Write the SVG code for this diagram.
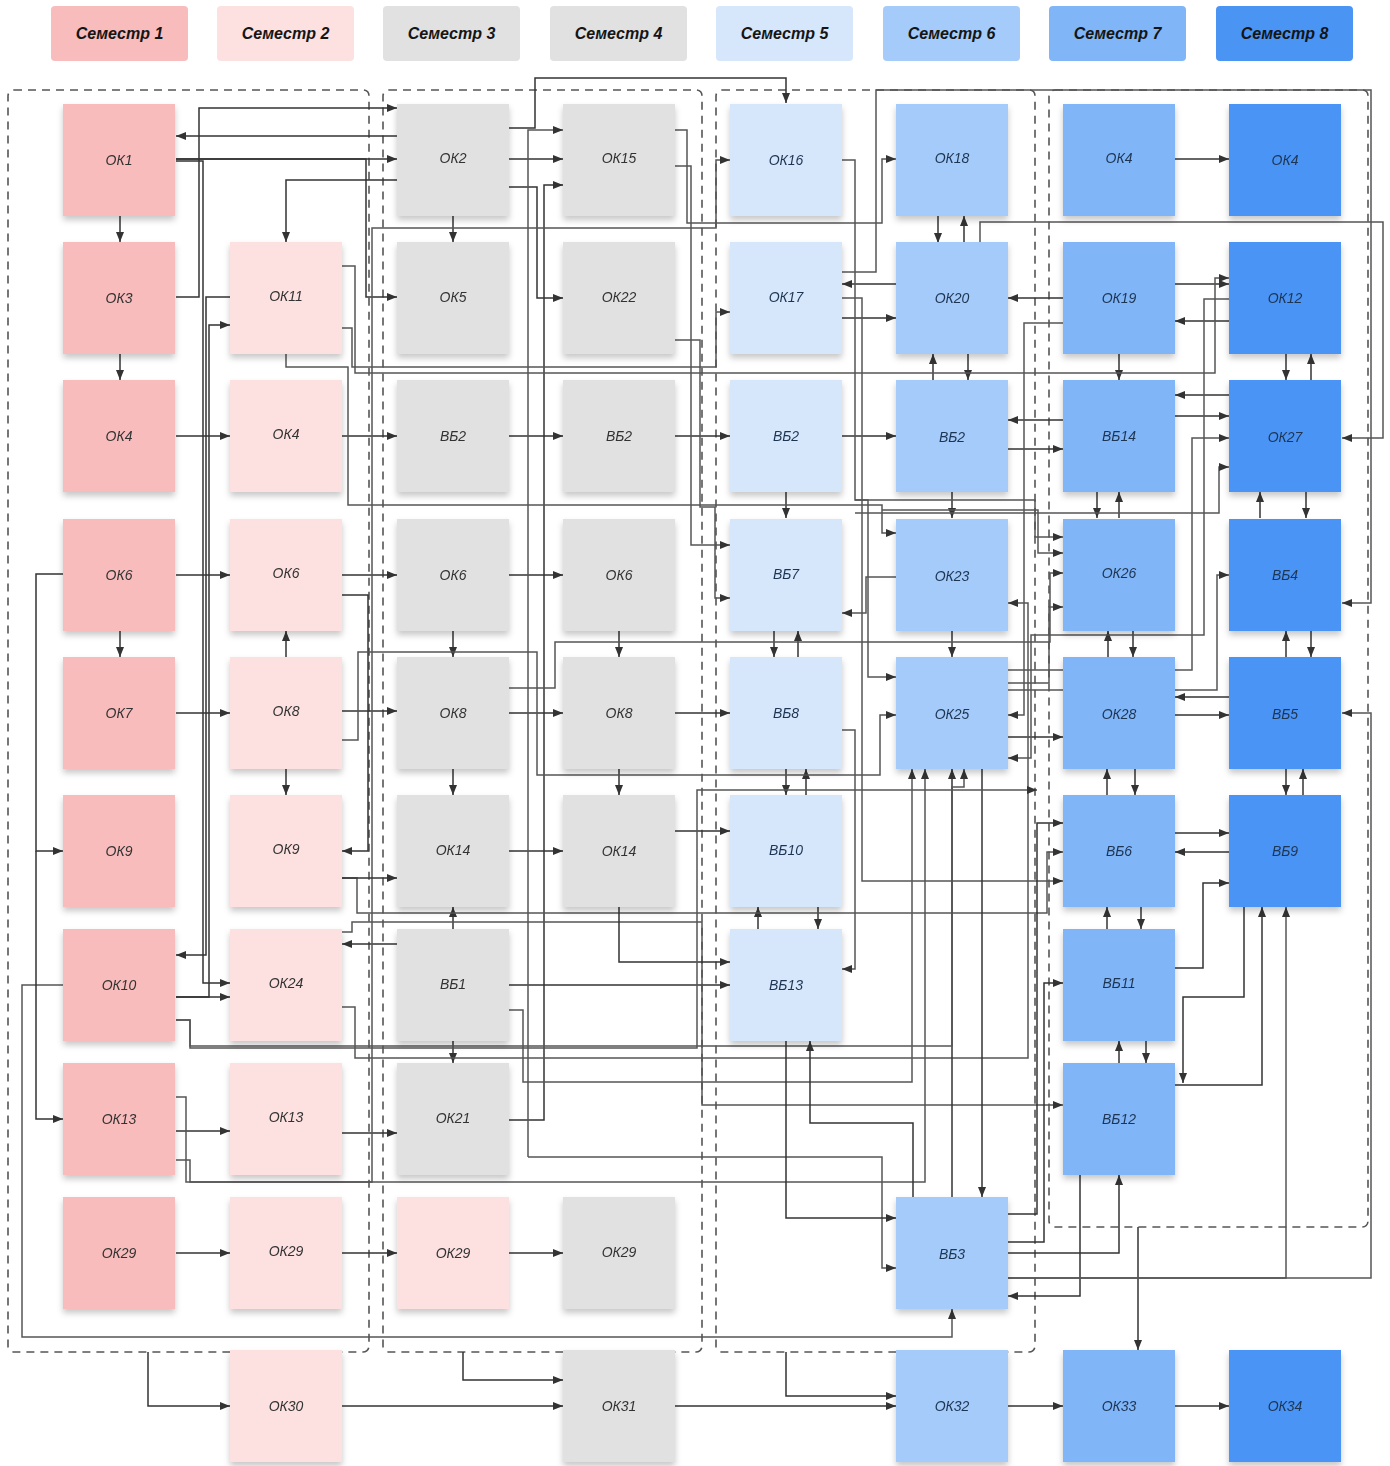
<svg xmlns="http://www.w3.org/2000/svg" width="1390" height="1466" viewBox="0 0 1390 1466">
<style>
.hd{font-family:"Liberation Sans",Arial,sans-serif;font-size:16px;font-weight:bold;font-style:italic;fill:#151515;text-anchor:middle}
.lb{font-family:"Liberation Sans",Arial,sans-serif;font-size:14px;font-style:italic;fill:#333;text-anchor:middle}
.lbb{font-family:"Liberation Sans",Arial,sans-serif;font-size:14px;font-style:italic;fill:#1e3553;text-anchor:middle}
.grp{fill:none;stroke:#555;stroke-width:1.6;stroke-dasharray:8 6}
.c{fill:none;stroke:#333;stroke-width:1.5;marker-end:url(#a)}
.g{fill:none;stroke:#555;stroke-width:1.5;marker-end:url(#a)}
.n{fill:none;stroke:#555;stroke-width:1.5}
.s1{fill:#f8bcbd}.s2{fill:#fde0e0}.s3{fill:#e1e1e1}.s5{fill:#d6e7fb}.s6{fill:#a4cbfa}.s7{fill:#80b5f7}.s8{fill:#4a94f4}
</style>
<defs>
<marker id="a" markerUnits="userSpaceOnUse" markerWidth="10" markerHeight="8" refX="10" refY="4" orient="auto"><path d="M0,0 L10,4 L0,8 z" fill="#333"/></marker>
<filter id="sh" x="-10%" y="-10%" width="120%" height="130%"><feDropShadow dx="0" dy="4" stdDeviation="3" flood-color="#000" flood-opacity="0.22"/></filter>
</defs>
<rect width="1390" height="1466" fill="#fff"/>

<g id="headers">
<g id="h1"><rect class="s1" x="51" y="6" width="137" height="55" rx="4"/><text class="hd" x="119.5" y="39">Семестр 1</text></g>
<g id="h2"><rect class="s2" x="217" y="6" width="137" height="55" rx="4"/><text class="hd" x="285.5" y="39">Семестр 2</text></g>
<g id="h3"><rect class="s3" x="383" y="6" width="137" height="55" rx="4"/><text class="hd" x="451.5" y="39">Семестр 3</text></g>
<g id="h4"><rect class="s3" x="550" y="6" width="137" height="55" rx="4"/><text class="hd" x="618.5" y="39">Семестр 4</text></g>
<g id="h5"><rect class="s5" x="716" y="6" width="137" height="55" rx="4"/><text class="hd" x="784.5" y="39">Семестр 5</text></g>
<g id="h6"><rect class="s6" x="883" y="6" width="137" height="55" rx="4"/><text class="hd" x="951.5" y="39">Семестр 6</text></g>
<g id="h7"><rect class="s7" x="1049" y="6" width="137" height="55" rx="4"/><text class="hd" x="1117.5" y="39">Семестр 7</text></g>
<g id="h8"><rect class="s8" x="1216" y="6" width="137" height="55" rx="4"/><text class="hd" x="1284.5" y="39">Семестр 8</text></g>
</g>

<g id="groups">
<rect class="grp" x="8" y="90" width="361" height="1262" rx="6"/>
<rect class="grp" x="383" y="90" width="319" height="1262" rx="6"/>
<rect class="grp" x="716" y="90" width="319" height="1262" rx="6"/>
<rect class="grp" x="1049" y="90" width="319" height="1137" rx="6"/>
</g>

<g id="connectors">
<!-- straight -->
<path class="c" d="M176,159 H397"/>
<path class="c" d="M397,136 H176"/>
<path class="c" d="M509,159 H563"/>
<path class="c" d="M1175,159 H1229"/>
<path class="c" d="M120,216 V242"/>
<path class="c" d="M120,354 V380"/>
<path class="c" d="M120,631 V657"/>
<path class="c" d="M453,216 V242"/>
<path class="c" d="M176,436 H230"/>
<path class="c" d="M342,436 H397"/>
<path class="c" d="M509,436 H563"/>
<path class="c" d="M675,436 H730"/>
<path class="c" d="M842,436 H896"/>
<path class="c" d="M176,575 H230"/>
<path class="c" d="M342,575 H397"/>
<path class="c" d="M509,575 H563"/>
<path class="c" d="M176,713 H230"/>
<path class="c" d="M342,711 H397"/>
<path class="c" d="M509,713 H563"/>
<path class="c" d="M675,713 H730"/>
<path class="c" d="M286,657 V631"/>
<path class="c" d="M286,769 V795"/>
<path class="c" d="M453,631 V657"/>
<path class="c" d="M619,631 V657"/>
<path class="c" d="M453,769 V795"/>
<path class="c" d="M619,769 V795"/>
<path class="c" d="M509,851 H563"/>
<path class="c" d="M675,831 H730"/>
<path class="c" d="M453,929 V907"/>
<path class="c" d="M453,1041 V1063"/>
<path class="c" d="M509,985 H730"/>
<path class="c" d="M397,944 H342"/>
<path class="c" d="M176,997 H230"/>
<path class="c" d="M176,1131 H230"/>
<path class="c" d="M342,1133 H397"/>
<path class="c" d="M176,1253 H230"/>
<path class="c" d="M342,1253 H397"/>
<path class="c" d="M509,1253 H563"/>
<path class="c" d="M342,1406 H563"/>
<path class="c" d="M675,1406 H896"/>
<path class="c" d="M1008,1406 H1063"/>
<path class="c" d="M1175,1406 H1229"/>
<path class="c" d="M148,1352 V1406 H230"/>
<path class="c" d="M463,1352 V1380 H563"/>
<path class="c" d="M786,1352 V1396 H896"/>
<path class="c" d="M1138,1227 V1350"/>
<path class="c" d="M938,216 V243"/>
<path class="c" d="M964,243 V216"/>
<path class="c" d="M1063,298 H1008"/>
<path class="c" d="M1175,284 H1229"/>
<path class="c" d="M1229,321 H1175"/>
<path class="c" d="M1286,354 V380"/>
<path class="c" d="M1311,380 V354"/>
<path class="c" d="M1119,354 V380"/>
<path class="c" d="M968,354 V380"/>
<path class="c" d="M933,380 V354"/>
<path class="c" d="M1063,420 H1008"/>
<path class="c" d="M1008,449 H1063"/>
<path class="c" d="M1229,395 H1175"/>
<path class="c" d="M1175,416 H1229"/>
<path class="c" d="M1097,492 V518"/>
<path class="c" d="M1119,518 V492"/>
<path class="c" d="M1260,518 V492"/>
<path class="c" d="M1306,492 V518"/>
<path class="c" d="M952,492 V518"/>
<path class="c" d="M952,631 V657"/>
<path class="c" d="M786,492 V518"/>
<path class="c" d="M774,631 V657"/>
<path class="c" d="M798,657 V631"/>
<path class="c" d="M786,769 V795"/>
<path class="c" d="M806,795 V769"/>
<path class="c" d="M758,929 V907"/>
<path class="c" d="M818,907 V929"/>
<path class="c" d="M1229,697 H1175"/>
<path class="c" d="M1175,715 H1229"/>
<path class="c" d="M1286,657 V631"/>
<path class="c" d="M1311,631 V657"/>
<path class="c" d="M1108,657 V631"/>
<path class="c" d="M1133,631 V657"/>
<path class="c" d="M1008,737 H1063"/>
<path class="c" d="M1107,795 V769"/>
<path class="c" d="M1135,769 V795"/>
<path class="c" d="M1286,769 V795"/>
<path class="c" d="M1303,795 V769"/>
<path class="c" d="M1175,833 H1229"/>
<path class="c" d="M1229,852 H1175"/>
<path class="c" d="M1107,929 V907"/>
<path class="c" d="M1141,907 V929"/>
<path class="c" d="M1119,1063 V1041"/>
<path class="c" d="M1146,1041 V1063"/>
<path class="c" d="M896,284 H842"/>
<path class="c" d="M842,318 H896"/>
<!-- routed -->
<path class="c" d="M176,159 H366 V297 H397"/>
<path class="c" d="M176,297 H199 V108 H397"/>
<path class="c" d="M230,297 H206 V955 H176"/>
<path class="c" d="M176,161 H203 V983 H230"/>
<path class="c" d="M176,997 H209 V325 H230"/>
<path class="c" d="M397,180 H286 V242"/>
<path class="c" d="M509,128 H535 V78 H786 V103"/>
<path class="c" d="M509,187 H537 V298 H563"/>
<path class="c" d="M509,1120 H544 V185 H563"/>
<path class="g" d="M528,1157 V130 H563"/>
<path class="g" d="M528,1157 H882 V1268 H896"/>
<path class="g" d="M176,1160 H190 V1182 H925 V769"/>
<path class="g" d="M342,266 H355 V373 H1215 V278 H1229"/>
<path class="g" d="M286,354 V367 H348 V505 H882 V533 H896"/>
<path class="g" d="M342,328 H352 V367 H716 V312 H730"/>
<path class="g" d="M176,1097 H186 V1182 H372 V228 H716 V160 H730"/>
<path class="c" d="M342,595 H368 V851 H342"/>
<path class="g" d="M842,160 H855 V500 H1035 V537 H1063"/>
<path class="g" d="M842,272 H876 V90 H1371 V603 H1342"/>
<path class="g" d="M980,243 V222 H1383 V438 H1342"/>
<path class="g" d="M675,130 H687 V223 H882 V159 H896"/>
<path class="g" d="M675,166 H691 V545 H730"/>
<path class="g" d="M675,340 H700 V507 H715 V598 H730"/>
<path class="g" d="M842,298 H862 V881 H1063"/>
<path class="g" d="M842,730 H855 V969 H842"/>
<path class="g" d="M342,1007 H355 V1058 H1028 V603 H1008"/>
<path class="g" d="M509,1010 H523 V1082 H912 V769"/>
<path class="g" d="M342,932 H352 V922 H702 V1105 H1063"/>
<path class="g" d="M342,878 H357 V913 H1047 V852 H1063"/>
<path class="c" d="M342,878 H397"/>
<path class="g" d="M509,688 H555 V642 H1050 V573 H1063"/>
<path class="g" d="M342,740 H358 V652 H537 V775 H880 V715 H896"/>
<path class="g" d="M855,500 H868 V677 H896"/>
<path class="c" d="M952,1197 V769"/>
<path class="c" d="M982,769 V1197"/>
<path class="g" d="M176,1020 H190 V1046 H952 V787 H964 V769"/>
<path class="g" d="M63,985 H22 V1337 H952 V1309"/>
<path class="c" d="M63,574 H36 V851 H63"/>
<path class="c" d="M36,851 V1119 H63"/>
<path class="c" d="M786,1041 V1218 H896"/>
<path class="c" d="M913,1197 V1123 H810 V1041"/>
<path class="c" d="M1008,1253 H1119 V1175"/>
<path class="c" d="M1080,1175 V1296 H1008"/>
<path class="g" d="M1008,1278 H1286 V907"/>
<path class="g" d="M1008,1278 H1371 V713 H1342"/>
<path class="c" d="M1008,1242 H1044 V983 H1063"/>
<path class="c" d="M1008,1214 H1037 V823 H1063"/>
<path class="c" d="M1175,968 H1203 V883 H1229"/>
<path class="c" d="M1175,1085 H1262 V907"/>
<path class="c" d="M1244,907 V997 H1183 V1083"/>
<path class="g" d="M1229,299 H1204 V635 H1031 V758 H1008"/>
<path class="g" d="M1063,323 H1024 V715 H1008"/>
<path class="g" d="M882,510 H1038 V553 H1063"/>
<path class="g" d="M1008,683 H1049 V607 H1063"/>
<path class="g" d="M855,513 H1219 V467 H1229"/>
<path class="g" d="M1008,670 H1192 V438 H1229"/>
<path class="g" d="M1008,690 H1217 V575 H1229"/>
<path class="g" d="M896,577 H866 V613 H842"/>
<path class="c" d="M619,907 V962 H730"/>
<path class="g" d="M176,1020 H190 V1048 H697 V790 H1037"/>
</g>

<g id="nodes" filter="url(#sh)">
<g id="n-ok1"><rect class="s1" x="63" y="104" width="112" height="112"/><text class="lb" x="119" y="165">ОК1</text></g>
<g id="n-ok3"><rect class="s1" x="63" y="242" width="112" height="112"/><text class="lb" x="119" y="303">ОК3</text></g>
<g id="n-ok4a"><rect class="s1" x="63" y="380" width="112" height="112"/><text class="lb" x="119" y="441">ОК4</text></g>
<g id="n-ok6a"><rect class="s1" x="63" y="519" width="112" height="112"/><text class="lb" x="119" y="580">ОК6</text></g>
<g id="n-ok7"><rect class="s1" x="63" y="657" width="112" height="112"/><text class="lb" x="119" y="718">ОК7</text></g>
<g id="n-ok9a"><rect class="s1" x="63" y="795" width="112" height="112"/><text class="lb" x="119" y="856">ОК9</text></g>
<g id="n-ok10"><rect class="s1" x="63" y="929" width="112" height="112"/><text class="lb" x="119" y="990">ОК10</text></g>
<g id="n-ok13a"><rect class="s1" x="63" y="1063" width="112" height="112"/><text class="lb" x="119" y="1124">ОК13</text></g>
<g id="n-ok29a"><rect class="s1" x="63" y="1197" width="112" height="112"/><text class="lb" x="119" y="1258">ОК29</text></g>

<g id="n-ok11"><rect class="s2" x="230" y="242" width="112" height="112"/><text class="lb" x="286" y="301">ОК11</text></g>
<g id="n-ok4b"><rect class="s2" x="230" y="380" width="112" height="112"/><text class="lb" x="286" y="439">ОК4</text></g>
<g id="n-ok6b"><rect class="s2" x="230" y="519" width="112" height="112"/><text class="lb" x="286" y="578">ОК6</text></g>
<g id="n-ok8a"><rect class="s2" x="230" y="657" width="112" height="112"/><text class="lb" x="286" y="716">ОК8</text></g>
<g id="n-ok9b"><rect class="s2" x="230" y="795" width="112" height="112"/><text class="lb" x="286" y="854">ОК9</text></g>
<g id="n-ok24"><rect class="s2" x="230" y="929" width="112" height="112"/><text class="lb" x="286" y="988">ОК24</text></g>
<g id="n-ok13b"><rect class="s2" x="230" y="1063" width="112" height="112"/><text class="lb" x="286" y="1122">ОК13</text></g>
<g id="n-ok29b"><rect class="s2" x="230" y="1197" width="112" height="112"/><text class="lb" x="286" y="1256">ОК29</text></g>
<g id="n-ok30"><rect class="s2" x="230" y="1350" width="112" height="112"/><text class="lb" x="286" y="1411">ОК30</text></g>

<g id="n-ok2"><rect class="s3" x="397" y="104" width="112" height="112"/><text class="lb" x="453" y="163">ОК2</text></g>
<g id="n-ok5"><rect class="s3" x="397" y="242" width="112" height="112"/><text class="lb" x="453" y="302">ОК5</text></g>
<g id="n-vb2a"><rect class="s3" x="397" y="380" width="112" height="112"/><text class="lb" x="453" y="441">ВБ2</text></g>
<g id="n-ok6c"><rect class="s3" x="397" y="519" width="112" height="112"/><text class="lb" x="453" y="580">ОК6</text></g>
<g id="n-ok8b"><rect class="s3" x="397" y="657" width="112" height="112"/><text class="lb" x="453" y="718">ОК8</text></g>
<g id="n-ok14a"><rect class="s3" x="397" y="795" width="112" height="112"/><text class="lb" x="453" y="855">ОК14</text></g>
<g id="n-vb1"><rect class="s3" x="397" y="929" width="112" height="112"/><text class="lb" x="453" y="989">ВБ1</text></g>
<g id="n-ok21"><rect class="s3" x="397" y="1063" width="112" height="112"/><text class="lb" x="453" y="1123">ОК21</text></g>
<g id="n-ok29c"><rect class="s2" x="397" y="1197" width="112" height="112"/><text class="lb" x="453" y="1258">ОК29</text></g>

<g id="n-ok15"><rect class="s3" x="563" y="104" width="112" height="112"/><text class="lb" x="619" y="163">ОК15</text></g>
<g id="n-ok22"><rect class="s3" x="563" y="242" width="112" height="112"/><text class="lb" x="619" y="302">ОК22</text></g>
<g id="n-vb2b"><rect class="s3" x="563" y="380" width="112" height="112"/><text class="lb" x="619" y="441">ВБ2</text></g>
<g id="n-ok6d"><rect class="s3" x="563" y="519" width="112" height="112"/><text class="lb" x="619" y="580">ОК6</text></g>
<g id="n-ok8c"><rect class="s3" x="563" y="657" width="112" height="112"/><text class="lb" x="619" y="718">ОК8</text></g>
<g id="n-ok14b"><rect class="s3" x="563" y="795" width="112" height="112"/><text class="lb" x="619" y="856">ОК14</text></g>
<g id="n-ok29d"><rect class="s3" x="563" y="1197" width="112" height="112"/><text class="lb" x="619" y="1257">ОК29</text></g>
<g id="n-ok31"><rect class="s3" x="563" y="1350" width="112" height="112"/><text class="lb" x="619" y="1411">ОК31</text></g>

<g id="n-ok16"><rect class="s5" x="730" y="104" width="112" height="112"/><text class="lbb" x="786" y="165">ОК16</text></g>
<g id="n-ok17"><rect class="s5" x="730" y="242" width="112" height="112"/><text class="lbb" x="786" y="302">ОК17</text></g>
<g id="n-vb2c"><rect class="s5" x="730" y="380" width="112" height="112"/><text class="lbb" x="786" y="441">ВБ2</text></g>
<g id="n-vb7"><rect class="s5" x="730" y="519" width="112" height="112"/><text class="lbb" x="786" y="579">ВБ7</text></g>
<g id="n-vb8"><rect class="s5" x="730" y="657" width="112" height="112"/><text class="lbb" x="786" y="718">ВБ8</text></g>
<g id="n-vb10"><rect class="s5" x="730" y="795" width="112" height="112"/><text class="lbb" x="786" y="855">ВБ10</text></g>
<g id="n-vb13"><rect class="s5" x="730" y="929" width="112" height="112"/><text class="lbb" x="786" y="990">ВБ13</text></g>

<g id="n-ok18"><rect class="s6" x="896" y="104" width="112" height="112"/><text class="lbb" x="952" y="163">ОК18</text></g>
<g id="n-ok20"><rect class="s6" x="896" y="242" width="112" height="112"/><text class="lbb" x="952" y="303">ОК20</text></g>
<g id="n-vb2d"><rect class="s6" x="896" y="380" width="112" height="112"/><text class="lbb" x="952" y="442">ВБ2</text></g>
<g id="n-ok23"><rect class="s6" x="896" y="519" width="112" height="112"/><text class="lbb" x="952" y="581">ОК23</text></g>
<g id="n-ok25"><rect class="s6" x="896" y="657" width="112" height="112"/><text class="lbb" x="952" y="719">ОК25</text></g>
<g id="n-vb3"><rect class="s6" x="896" y="1197" width="112" height="112"/><text class="lbb" x="952" y="1259">ВБ3</text></g>
<g id="n-ok32"><rect class="s6" x="896" y="1350" width="112" height="112"/><text class="lbb" x="952" y="1411">ОК32</text></g>

<g id="n-ok4c"><rect class="s7" x="1063" y="104" width="112" height="112"/><text class="lbb" x="1119" y="163">ОК4</text></g>
<g id="n-ok19"><rect class="s7" x="1063" y="242" width="112" height="112"/><text class="lbb" x="1119" y="303">ОК19</text></g>
<g id="n-vb14"><rect class="s7" x="1063" y="380" width="112" height="112"/><text class="lbb" x="1119" y="441">ВБ14</text></g>
<g id="n-ok26"><rect class="s7" x="1063" y="519" width="112" height="112"/><text class="lbb" x="1119" y="578">ОК26</text></g>
<g id="n-ok28"><rect class="s7" x="1063" y="657" width="112" height="112"/><text class="lbb" x="1119" y="719">ОК28</text></g>
<g id="n-vb6"><rect class="s7" x="1063" y="795" width="112" height="112"/><text class="lbb" x="1119" y="856">ВБ6</text></g>
<g id="n-vb11"><rect class="s7" x="1063" y="929" width="112" height="112"/><text class="lbb" x="1119" y="988">ВБ11</text></g>
<g id="n-vb12"><rect class="s7" x="1063" y="1063" width="112" height="112"/><text class="lbb" x="1119" y="1124">ВБ12</text></g>
<g id="n-ok33"><rect class="s7" x="1063" y="1350" width="112" height="112"/><text class="lbb" x="1119" y="1411">ОК33</text></g>

<g id="n-ok4d"><rect class="s8" x="1229" y="104" width="112" height="112"/><text class="lbb" x="1285" y="165">ОК4</text></g>
<g id="n-ok12"><rect class="s8" x="1229" y="242" width="112" height="112"/><text class="lbb" x="1285" y="303">ОК12</text></g>
<g id="n-ok27"><rect class="s8" x="1229" y="380" width="112" height="112"/><text class="lbb" x="1285" y="442">ОК27</text></g>
<g id="n-vb4"><rect class="s8" x="1229" y="519" width="112" height="112"/><text class="lbb" x="1285" y="580">ВБ4</text></g>
<g id="n-vb5"><rect class="s8" x="1229" y="657" width="112" height="112"/><text class="lbb" x="1285" y="719">ВБ5</text></g>
<g id="n-vb9"><rect class="s8" x="1229" y="795" width="112" height="112"/><text class="lbb" x="1285" y="856">ВБ9</text></g>
<g id="n-ok34"><rect class="s8" x="1229" y="1350" width="112" height="112"/><text class="lbb" x="1285" y="1411">ОК34</text></g>
</g>
</svg>
